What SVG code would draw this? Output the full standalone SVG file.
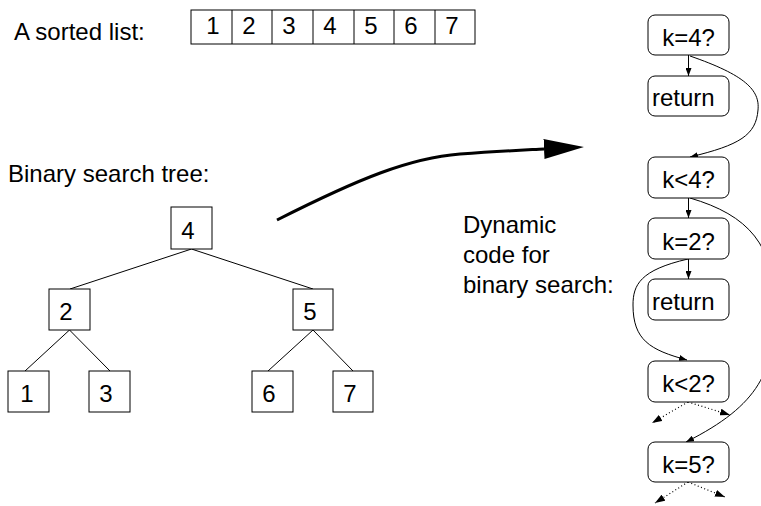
<svg xmlns="http://www.w3.org/2000/svg" width="761" height="506" viewBox="0 0 761 506">
  <style>
    text { font-family: "Liberation Sans", Arial, sans-serif; font-size: 24px; fill: #000; }
    .box { fill: #fff; stroke: #000; stroke-width: 1; }
    .code { fill: #fff; stroke: #000; stroke-width: 1; }
    .edge { fill: none; stroke: #000; stroke-width: 1; }
    .flow { fill: none; stroke: #000; stroke-width: 1; }
    .dot { fill: none; stroke: #000; stroke-width: 1.2; stroke-dasharray: 1 2.5; }
    .big { fill: none; stroke: #000; stroke-width: 3; }
    .mid { text-anchor: middle; }
  </style>
  <defs>
    <marker id="tip" viewBox="0 0 8 6" refX="8" refY="3" markerWidth="8" markerHeight="6" markerUnits="userSpaceOnUse" orient="auto">
      <path d="M0,0 L8,3 L0,6 z" fill="#000"/>
    </marker>
    <marker id="dtip" viewBox="0 0 10 7" refX="10" refY="3.5" markerWidth="10" markerHeight="7" markerUnits="userSpaceOnUse" orient="auto">
      <path d="M0,0 L10,3.5 L0,7 z" fill="#000"/>
    </marker>
    <marker id="bigtip" viewBox="0 0 40 20" refX="0" refY="10" markerWidth="40" markerHeight="20" markerUnits="userSpaceOnUse" orient="auto">
      <path d="M0,0 L40,10 L0,20 z" fill="#000"/>
    </marker>
  </defs>

  <!-- labels -->
  <text x="14" y="40">A sorted list:</text>
  <text x="8" y="182">Binary search tree:</text>
  <text x="463" y="233">Dynamic</text>
  <text x="463" y="263">code for</text>
  <text x="463" y="293">binary search:</text>

  <!-- sorted array -->
  <g id="list">
    <rect class="box" x="191" y="10" width="284" height="34"/>
    <path class="edge" d="M232,10 V44 M272,10 V44 M313,10 V44 M354,10 V44 M394,10 V44 M435,10 V44"/>
    <text class="mid" x="213" y="34">1</text>
    <text class="mid" x="249" y="34">2</text>
    <text class="mid" x="289" y="34">3</text>
    <text class="mid" x="330" y="34">4</text>
    <text class="mid" x="371" y="34">5</text>
    <text class="mid" x="411" y="34">6</text>
    <text class="mid" x="452" y="34">7</text>
  </g>

  <!-- tree edges and flow connectors -->
  <g id="connectors">
    <path class="edge" d="M191.5,249 L70,289 M191.5,249 L313,289"/>
    <path class="edge" d="M69.5,330 L25,371 M69.5,330 L110,371"/>
    <path class="edge" d="M313,330 L268,371 M313,330 L353,371"/>

    <path class="big" d="M277,220 C 360,178 410,158 460,154 C 500,151 525,150 544,149" marker-end="url(#bigtip)"/>

    <path class="flow" d="M688.5,55 V76" marker-end="url(#tip)"/>
    <path class="flow" d="M688.5,198 V218" marker-end="url(#tip)"/>
    <path class="flow" d="M688.5,259 V279" marker-end="url(#tip)"/>

    <path class="flow" d="M690,56 C 745,75 760,90 758,110 C 756,135 740,145 690,157" marker-end="url(#tip)"/>
    <path class="flow" d="M690,198 C 748,215 776,245 774,310 C 775,370 760,405 686,442" marker-end="url(#tip)"/>
    <path class="flow" d="M688,259 C 640,270 633,285 633,305 C 633,340 650,350 687,360" marker-end="url(#tip)"/>

    <path class="dot" d="M688,402 L652,423" marker-end="url(#dtip)"/>
    <path class="dot" d="M688,402 L730,415" marker-end="url(#dtip)"/>
    <path class="dot" d="M688,482 L655,503" marker-end="url(#dtip)"/>
    <path class="dot" d="M688,482 L725,497" marker-end="url(#dtip)"/>
  </g>

  <!-- tree nodes -->
  <g id="n4"><rect class="box" x="171" y="207" width="41" height="42"/><text class="mid" x="188" y="239">4</text></g>
  <g id="n2"><rect class="box" x="49" y="289" width="41" height="41"/><text class="mid" x="66" y="320">2</text></g>
  <g id="n5"><rect class="box" x="293" y="289" width="40" height="41"/><text class="mid" x="310" y="320">5</text></g>
  <g id="n1"><rect class="box" x="8" y="371" width="41" height="41"/><text class="mid" x="27" y="402">1</text></g>
  <g id="n3"><rect class="box" x="89" y="371" width="41" height="41"/><text class="mid" x="106" y="402">3</text></g>
  <g id="n6"><rect class="box" x="252" y="371" width="41" height="41"/><text class="mid" x="269" y="402">6</text></g>
  <g id="n7"><rect class="box" x="333" y="371" width="40" height="41"/><text class="mid" x="350" y="402">7</text></g>

  <!-- generated code blocks -->
  <g id="c1"><rect class="code" x="648" y="15" width="81" height="40" rx="7"/><text class="mid" x="688.5" y="46">k=4?</text></g>
  <g id="c2"><rect class="code" x="648" y="76" width="81" height="40" rx="7"/><text x="652" y="106">return</text></g>
  <g id="c3"><rect class="code" x="648" y="157" width="81" height="41" rx="7"/><text class="mid" x="688.5" y="188">k&lt;4?</text></g>
  <g id="c4"><rect class="code" x="648" y="218" width="81" height="41" rx="7"/><text class="mid" x="688.5" y="250">k=2?</text></g>
  <g id="c5"><rect class="code" x="648" y="279" width="81" height="41" rx="7"/><text x="652" y="310">return</text></g>
  <g id="c6"><rect class="code" x="648" y="361" width="81" height="41" rx="7"/><text class="mid" x="688.5" y="392">k&lt;2?</text></g>
  <g id="c7"><rect class="code" x="648" y="442" width="81" height="40" rx="7"/><text class="mid" x="688.5" y="473">k=5?</text></g>
</svg>
